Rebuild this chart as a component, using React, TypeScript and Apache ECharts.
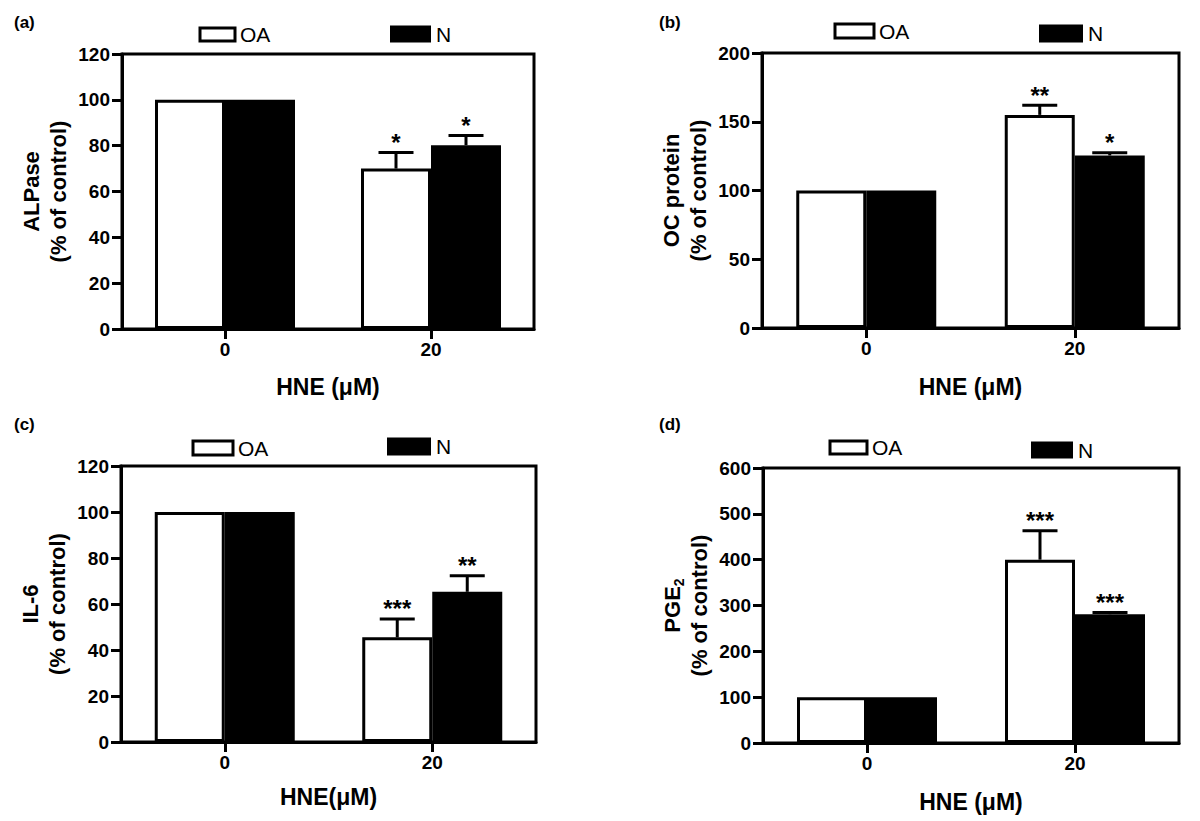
import React, { useEffect, useRef } from 'react';
import * as echarts from 'echarts';

const categories = ['0', '20'];

// (a) ALPase
const alpOA = [100, 70];
const alpOAErr = [0, 7];
const alpN = [100, 80.2];
const alpNErr = [0, 4.2];
const alpOASig = ['', '*'];
const alpNSig = ['', '*'];

// (b) OC protein
const ocOA = [100, 155];
const ocOAErr = [0, 7];
const ocN = [100, 125.5];
const ocNErr = [0, 2];
const ocOASig = ['', '**'];
const ocNSig = ['', '*'];

// (c) IL-6
const il6OA = [100, 45.5];
const il6OAErr = [0, 8];
const il6N = [100, 65.3];
const il6NErr = [0, 7];
const il6OASig = ['', '***'];
const il6NSig = ['', '**'];

// (d) PGE2
const pgeOA = [100, 400];
const pgeOAErr = [0, 63];
const pgeN = [100, 281];
const pgeNErr = [0, 4];
const pgeOASig = ['', '***'];
const pgeNSig = ['', '***'];

const yMax = [120, 200, 120, 600];
const yStep = [20, 50, 20, 100];
const panelLabels = ['(a)', '(b)', '(c)', '(d)'];
const xTitles = ['HNE (\u03bcM)', 'HNE (\u03bcM)', 'HNE(\u03bcM)', 'HNE (\u03bcM)'];
const yTitles = [
  '{t|ALPase}\n{t|(% of control)}',
  '{t|OC protein}\n{t|(% of control)}',
  '{t|IL-6}\n{t|(% of control)}',
  '{t|PGE}{s|2}\n{t|(% of control)}',
];

const FONT = '"Liberation Sans", Arial, Helvetica, sans-serif';
const BAR_W = 70;
const CAP_W = 35;

const grids = [
  { left: 122, top: 54, width: 412, height: 275 },
  { left: 762, top: 53, width: 417, height: 275 },
  { left: 121, top: 466, width: 415, height: 276 },
  { left: 763, top: 468, width: 416, height: 275 },
];
const xNameGap = [46, 47, 43, 47];
const titlePos = [
  { left: 14, top: 14 },
  { left: 659, top: 14 },
  { left: 14, top: 416 },
  { left: 659, top: 416 },
];
const legendPos = [
  { name: 'OA', left: 198.5, top: 24, w: 35, h: 13 },
  { name: 'N', left: 390, top: 23.5, w: 41, h: 17 },
  { name: 'OA', left: 833.5, top: 20.5, w: 39, h: 14 },
  { name: 'N', left: 1039, top: 23, w: 44, h: 18 },
  { name: 'OA', left: 191.5, top: 437.5, w: 40, h: 14 },
  { name: 'N', left: 387, top: 436, w: 44, h: 18 },
  { name: 'OA', left: 828.5, top: 437, w: 37, h: 13 },
  { name: 'N', left: 1031, top: 439.5, w: 42, h: 17 },
];

const panels = [
  { oa: alpOA, oaErr: alpOAErr, oaSig: alpOASig, n: alpN, nErr: alpNErr, nSig: alpNSig },
  { oa: ocOA, oaErr: ocOAErr, oaSig: ocOASig, n: ocN, nErr: ocNErr, nSig: ocNSig },
  { oa: il6OA, oaErr: il6OAErr, oaSig: il6OASig, n: il6N, nErr: il6NErr, nSig: il6NSig },
  { oa: pgeOA, oaErr: pgeOAErr, oaSig: pgeOASig, n: pgeN, nErr: pgeNErr, nSig: pgeNSig },
];

function errSeries(gi: number, means: number[], errs: number[], sigs: string[], side: number) {
  return {
    type: 'custom',
    xAxisIndex: gi,
    yAxisIndex: gi,
    z: 5,
    clip: false,
    silent: true,
    data: means.map((m, i) => [i, m, errs[i]]),
    renderItem: (params: any, api: any) => {
      const i = params.dataIndex;
      const m = api.value(1);
      const e = api.value(2);
      if (!e) return { type: 'group', children: [] };
      const base = api.coord([api.value(0), m]);
      const top = api.coord([api.value(0), m + e]);
      const cx = base[0] + (side * BAR_W) / 2;
      return {
        type: 'group',
        children: [
          { type: 'line', shape: { x1: cx, y1: base[1], x2: cx, y2: top[1] }, style: { stroke: '#000', lineWidth: 3 } },
          { type: 'line', shape: { x1: cx - CAP_W / 2, y1: top[1], x2: cx + CAP_W / 2, y2: top[1] }, style: { stroke: '#000', lineWidth: 3 } },
          {
            type: 'text',
            x: cx,
            y: top[1] + 2,
            style: {
              text: sigs[i],
              fill: '#000',
              fontSize: 24,
              fontWeight: 'bold',
              fontFamily: FONT,
              align: 'center',
              verticalAlign: 'bottom',
            },
          },
        ],
      };
    },
  };
}

export default function App() {
  const ref = useRef<HTMLDivElement>(null);
  useEffect(() => {
    if (!ref.current) return;
    const chart = echarts.init(ref.current, undefined, { renderer: 'svg' });
    const series: any[] = [];
    panels.forEach((p, gi) => {
      series.push({
        type: 'bar',
        name: 'OA',
        xAxisIndex: gi,
        yAxisIndex: gi,
        data: p.oa,
        barWidth: BAR_W,
        barGap: '0%',
        itemStyle: { color: '#fff', borderColor: '#000', borderWidth: 3 },
        silent: true,
      });
      series.push({
        type: 'bar',
        name: 'N',
        xAxisIndex: gi,
        yAxisIndex: gi,
        data: p.n,
        barWidth: BAR_W,
        barGap: '0%',
        itemStyle: { color: '#000' },
        silent: true,
      });
      series.push(errSeries(gi, p.oa, p.oaErr, p.oaSig, -1));
      series.push(errSeries(gi, p.n, p.nErr, p.nSig, 1));
    });

    const option: any = {
      animation: false,
      backgroundColor: '#fff',
      textStyle: { fontFamily: FONT, color: '#000' },
      title: panelLabels.map((t, i) => ({
        text: t,
        left: titlePos[i].left,
        top: titlePos[i].top,
        padding: 0,
        textStyle: { fontSize: 17, fontWeight: 'bold', color: '#000', fontFamily: FONT },
      })),
      legend: legendPos.map((l) => ({
        data: [l.name],
        left: l.left,
        top: l.top,
        padding: 0,
        icon: 'rect',
        itemWidth: l.w,
        itemHeight: l.h,
        selectedMode: false,
        textStyle: { fontSize: 21, color: '#000', fontFamily: FONT },
        itemStyle:
          l.name === 'OA'
            ? { color: '#fff', borderColor: '#000', borderWidth: 3 }
            : { color: '#000', borderWidth: 0 },
      })),
      grid: grids.map((g) => ({
        ...g,
        show: true,
        borderColor: '#000',
        borderWidth: 3,
        backgroundColor: 'transparent',
        containLabel: false,
      })),
      xAxis: grids.map((_, i) => ({
        type: 'category',
        gridIndex: i,
        data: categories,
        boundaryGap: true,
        name: xTitles[i],
        nameLocation: 'middle',
        nameGap: xNameGap[i],
        nameTextStyle: { fontSize: 23, fontWeight: 'bold', color: '#000', fontFamily: FONT },
        axisLine: { show: true, lineStyle: { color: '#000', width: 3 } },
        axisTick: { show: true, alignWithLabel: true, length: 10, lineStyle: { color: '#000', width: 3 } },
        axisLabel: { fontSize: 19, fontWeight: 'bold', color: '#000', margin: 11, fontFamily: FONT },
        splitLine: { show: false },
      })),
      yAxis: grids.map((_, i) => ({
        type: 'value',
        gridIndex: i,
        min: 0,
        max: yMax[i],
        interval: yStep[i],
        name: yTitles[i],
        nameLocation: 'middle',
        nameRotate: 90,
        nameGap: 50,
        nameTextStyle: {
          fontSize: 22,
          fontWeight: 'bold',
          color: '#000',
          fontFamily: FONT,
          lineHeight: 27,
          rich: {
            t: { fontSize: 22, fontWeight: 'bold', color: '#000', fontFamily: FONT, lineHeight: 27 },
            s: { fontSize: 14, fontWeight: 'bold', color: '#000', fontFamily: FONT, lineHeight: 10, verticalAlign: 'bottom' },
          },
        },
        axisLine: { show: true, lineStyle: { color: '#000', width: 3 } },
        axisTick: { show: true, length: 10, lineStyle: { color: '#000', width: 3 } },
        axisLabel: { fontSize: 19, fontWeight: 'bold', color: '#000', margin: 12, fontFamily: FONT },
        splitLine: { show: false },
      })),
      series,
    };
    chart.setOption(option);
    return () => chart.dispose();
  }, []);
  return (
    <div
      ref={ref}
      style={{ position: 'fixed', left: 0, top: 0, width: 1200, height: 821, background: '#fff' }}
    />
  );
}
